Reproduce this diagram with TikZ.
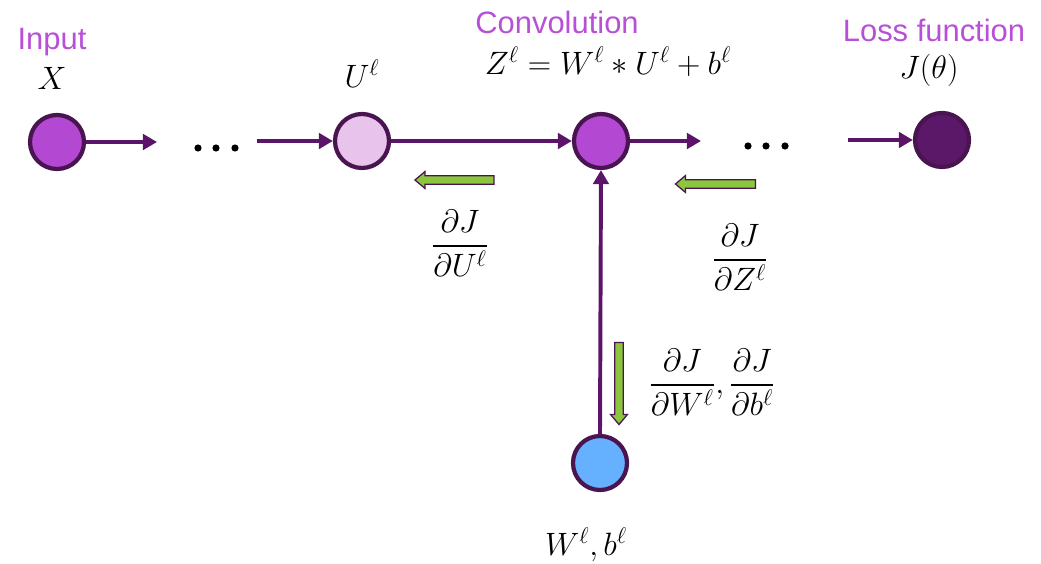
\RequirePackage{fix-cm}
\documentclass[tikz,border=0pt]{standalone}
\usepackage{amsmath}
\usepackage{fontspec}
\setsansfont{Liberation Sans}
\usetikzlibrary{arrows.meta,shapes.arrows}

\definecolor{nodeline}{HTML}{4A1450}
\definecolor{flowline}{HTML}{5C1468}
\definecolor{inputfill}{HTML}{B349D3}
\definecolor{ufill}{HTML}{E8C3EC}
\definecolor{lossfill}{HTML}{5B1869}
\definecolor{wfill}{HTML}{66B1FF}
\definecolor{labelpink}{HTML}{B84FD7}
\definecolor{gradgreen}{HTML}{8CC63F}

\begin{document}
\begin{tikzpicture}[x=0.025cm, y=-0.025cm,
    >={Triangle[length=10pt,width=11pt]},
    neuron/.style={circle, draw=nodeline, line width=3pt,
                   minimum size=1.35cm, inner sep=0pt},
    flow/.style={->, draw=flowline, line width=2.8pt},
    grad/.style={single arrow, draw=nodeline, fill=gradgreen,
                 line width=0.9pt, inner sep=2.6pt,
                 single arrow head extend=3pt, single arrow tip angle=80},
    title/.style={font=\sffamily\fontsize{22}{26}\selectfont, text=labelpink},
    mlabel/.style={font=\fontsize{23}{27}\selectfont}]

\useasboundingbox (0,0) rectangle (1041,564);

% neurons
\node[neuron, fill=inputfill] (in)   at (57,142)  {};
\node[neuron, fill=ufill]     (u)    at (362,141) {};
\node[neuron, fill=inputfill] (conv) at (601,141) {};
\node[neuron, fill=lossfill]  (loss) at (942,140) {};
\node[neuron, fill=wfill]     (wgt)  at (600,463) {};

% free ends around the dots
\coordinate (a1) at (157,142);
\coordinate (a2) at (257,141);
\coordinate (a3) at (701,141);
\coordinate (a4) at (848,140);

\foreach \x in {198,216,235} \fill (\x,148) circle (3.6);
\foreach \x in {748,766,785} \fill (\x,146) circle (3.6);

% forward pass
\draw[flow] (in.east) -- (a1);
\draw[flow] (a2) -- (u.west);
\draw[flow] (u.east) -- (conv.west);
\draw[flow] (conv.east) -- (a3);
\draw[flow] (a4) -- (loss.west);
\draw[flow] (wgt.north) -- (conv.south);

% backward pass
\node[grad, minimum height=79*0.025cm, rotate=180] (gu) at (457,180) {};
\node[grad, minimum height=80*0.025cm, rotate=180] (gz) at (718,184) {};
\node[grad, minimum height=82*0.025cm, rotate=-90] (gw) at (619,381) {};

% labels
\node[title] (tin)   at (52,42)  {Input};
\node[title] (tconv) at (557,22) {Convolution};
\node[title] (tloss) at (934,30) {Loss function};

\node[mlabel] (lx)    at (52,78)  {$X$};
\node[mlabel] (lu)    at (362,74) {$U^\ell$};
\node[mlabel] (lz)    at (608,62) {$Z^\ell = W^\ell * U^\ell + b^\ell$};
\node[mlabel] (lj)    at (929,70) {$J(\theta)$};
\node[mlabel] (lw)    at (586,545) {$W^\ell, b^\ell$};

\node[mlabel] (du) at (460,243) {$\dfrac{\partial J}{\partial U^\ell}$};
\node[mlabel] (dz) at (740,257) {$\dfrac{\partial J}{\partial Z^\ell}$};
\node[mlabel] (dw) at (712,382)
    {$\dfrac{\partial J}{\partial W^\ell},\dfrac{\partial J}{\partial b^\ell}$};

\end{tikzpicture}
\end{document}
